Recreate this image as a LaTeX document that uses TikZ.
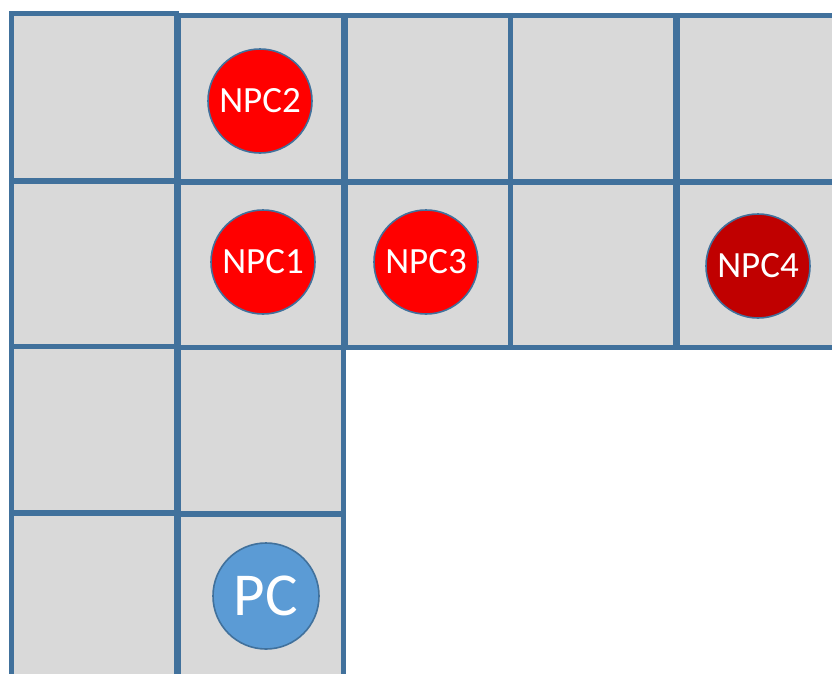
\documentclass[tikz,border=0pt]{standalone}
\usepackage{fontspec}
\setmainfont{Carlito}
\definecolor{cellfill}{HTML}{D9D9D9}
\definecolor{cellline}{HTML}{41719C}
\definecolor{npcred}{HTML}{FF0000}
\definecolor{npcdark}{HTML}{C00000}
\definecolor{pcblue}{HTML}{5B9BD5}
\tikzset{
  cell/.style={fill=cellfill, draw=cellline, line width=5pt},
  token/.style={circle, draw=cellline, line width=1.6pt, minimum size=104pt,
    inner sep=0pt, text=white, font=\fontsize{37}{37}\selectfont},
}
\begin{document}
\begin{tikzpicture}[x=1pt, y=-1pt]
\useasboundingbox (0,0) rectangle (832,673);
\clip (0,0) rectangle (832,673);
% board squares
\foreach \xa/\ya/\xb/\yb in {
  11/13/176/180, 178/15/343/181, 345/15/510/181, 510/15/675/181, 677/15/842/181,
  11/181/176/346, 178/182/343/347, 345/182/510/347, 510/182/675/347, 677/182/842/347,
  11/346/176/512, 178/347/343/513,
  11/513/176/690, 178/514/343/690}
  \draw[cell] (\xa,\ya) rectangle (\xb,\yb);
% pieces
\node[token, fill=npcred] (npc2) at (260,101) {NPC2};
\node[token, fill=npcred] (npc1) at (263,262) {NPC1};
\node[token, fill=npcred] (npc3) at (426,262) {NPC3};
\node[token, fill=npcdark] (npc4) at (758,266) {NPC4};
\node[token, fill=pcblue, minimum size=106pt, font=\fontsize{61}{61}\selectfont] (pc) at (266,596) {PC};
\end{tikzpicture}
\end{document}
